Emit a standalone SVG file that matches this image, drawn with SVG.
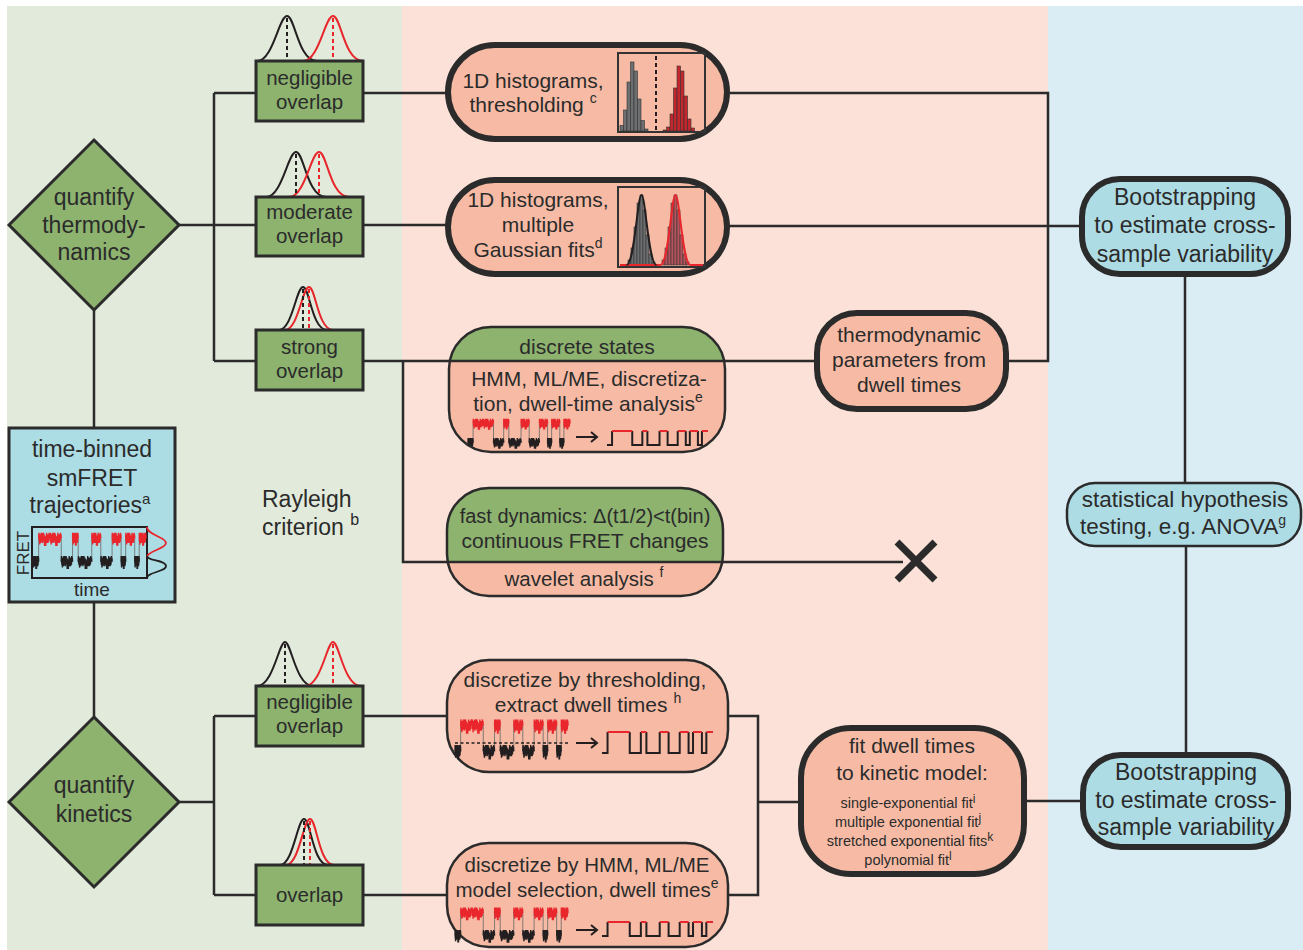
<svg xmlns="http://www.w3.org/2000/svg" xmlns:xlink="http://www.w3.org/1999/xlink" width="1303" height="950" viewBox="0 0 1303 950">
<style>
.t{font-family:"Liberation Sans",Arial,sans-serif;fill:#2b2b2b;text-anchor:middle}
.ln{stroke:#2b2b2b;stroke-width:2.5;fill:none}
.gbox{fill:#8db36f;stroke:#2b2b2b;stroke-width:3}
.thick{fill:#f7bba5;stroke:#2b2b2b;stroke-width:6}
.bthick{fill:#aedce4;stroke:#2b2b2b;stroke-width:6}
.thin{fill:none;stroke:#2b2b2b;stroke-width:2.5}
.k{stroke:#231f20}
.r{stroke:#e8262c}
.gs{fill:none;stroke-width:2}
.ds{fill:none;stroke-width:2;stroke-dasharray:4 3}
.hg{fill:#6d6e70;stroke:#333;stroke-width:.6}
.hr{fill:#c1272d;stroke:#333;stroke-width:.6}
.hr2{fill:#b5545c;stroke:#333;stroke-width:.6}
</style>
<defs>
<path id="nz" d="M0,0l.25,-4 .25,6 .25,-5 .25,7 .25,-6 .25,3 .25,-4 .25,6 .25,-7 .25,5 .25,-3 .25,4 .25,-6 .25,7 .25,-5 .25,2 .25,-4 .25,6 .25,-5 .25,3 .25,5 .25,-7 .25,4 .25,-3 .25,6 .25,-5 .25,2 .25,-6 .25,7 .25,-4 .25,3 .25,-5 .25,6 .25,-2 .25,-4 .25,5 .25,-6 .25,4 .25,-3 .25,3" fill="none" stroke-width="1.4" vector-effect="non-scaling-stroke"/>
<g id="tr">
<path d="M5,8V24M25,8V24M35,8V24M40,8V24M52,8V24M60,8V24M70,8V24M78,8V24M82,8V24M90,8V24M94,8V24" stroke="#666" stroke-width=".8" vector-effect="non-scaling-stroke"/>
<g class="k">
<use href="#nz" transform="translate(0,24) scale(.5,1)"/>
<use href="#nz" transform="translate(25,24)"/>
<use href="#nz" transform="translate(40,24) scale(1.2,1)"/>
<use href="#nz" transform="translate(60,24)"/>
<use href="#nz" transform="translate(78,24) scale(.4,1)"/>
<use href="#nz" transform="translate(90,24) scale(.4,1)"/>
</g>
<g class="r">
<use href="#nz" transform="translate(5,8)"/>
<use href="#nz" transform="translate(15,8)"/>
<use href="#nz" transform="translate(35,8) scale(.5,1)"/>
<use href="#nz" transform="translate(52,8) scale(.8,1)"/>
<use href="#nz" transform="translate(70,8) scale(.8,1)"/>
<use href="#nz" transform="translate(82,8) scale(.8,1)"/>
<use href="#nz" transform="translate(94,8) scale(.6,1)"/>
</g>
</g>
<g id="st" fill="none">
<path class="k" stroke-width="2" vector-effect="non-scaling-stroke" d="M0,24H5V8M25,8V24H35V8M40,8V24H52V8M60,8V24H70V8M78,8V24H82V8M90,8V24H94V8"/>
<path class="r" stroke-width="2" vector-effect="non-scaling-stroke" d="M5,8H25M35,8H40M52,8H60M70,8H78M82,8H90M94,8H100"/>
</g>
<g id="arr" fill="none" stroke="#231f20" stroke-width="2">
<path d="M0,0H21M15,-5L21,0L15,5"/>
</g>
<clipPath id="cDS"><rect x="449" y="327" width="276" height="125" rx="42"/></clipPath>
<clipPath id="cFD"><rect x="447" y="488" width="276" height="108" rx="42"/></clipPath>
</defs>

<!-- background panels -->
<rect x="7" y="6" width="395" height="944" fill="#e2ebdb"/>
<rect x="402" y="6" width="646" height="944" fill="#fbe1d7"/>
<rect x="1048" y="6" width="255" height="944" fill="#daedf4"/>

<g id="connectors" class="ln">
<path d="M94,310V428M94,602V717"/>
<path d="M179,225H214M214,93V361M214,93H256M214,225H256M214,361H256"/>
<path d="M179,802H214M214,716V895M214,716H256M214,895H256"/>
<path d="M363,93H448M363,225H448M363,361H449"/>
<path d="M403,361V562H447M723,562H903"/>
<path d="M727,93H1048V361H1006M727,226H1082M725,361H817"/>
<path d="M1185,277V483M1186,546V755"/>
<path d="M363,716H447M728,716H758V895H728M363,895H447M758,802H801M1024,801H1083"/>
</g>

<g id="thermo-diamond">
<polygon points="94,140 179,225 94,310 9,225" fill="#8db36f" stroke="#2b2b2b" stroke-width="3"/>
<text class="t" font-size="23"><tspan x="94" y="205">quantify</tspan><tspan x="94" y="233">thermody-</tspan><tspan x="94" y="260">namics</tspan></text>
</g>

<g id="kinetic-diamond">
<polygon points="94,717 179,802 94,887 9,802" fill="#8db36f" stroke="#2b2b2b" stroke-width="3"/>
<text class="t" font-size="23"><tspan x="94" y="793">quantify</tspan><tspan x="94" y="822">kinetics</tspan></text>
</g>

<g id="trajectories">
<rect x="9" y="428" width="166" height="174" fill="#acdce4" stroke="#2b2b2b" stroke-width="3"/>
<text class="t" font-size="23"><tspan x="92" y="457">time-binned</tspan><tspan x="92" y="486">smFRET</tspan><tspan x="90" y="513">trajectories<tspan dy="-9" font-size="15">a</tspan></tspan></text>
<rect x="32" y="527" width="115" height="51" fill="none" stroke="#231f20" stroke-width="2"/>
<use href="#tr" transform="translate(33,527) scale(1.13,1.45)"/>
<path d="M147,527C147,535 166,537 166,543S147,551 147,557" fill="none" stroke="#e8262c" stroke-width="1.8"/>
<path d="M147,556C147,561 166,560 166,566S147,572 147,578" fill="none" stroke="#231f20" stroke-width="1.8"/>
<text class="t" font-size="19" x="92" y="596">time</text>
<text class="t" font-size="17" transform="translate(29,553) rotate(-90)" x="0" y="0">FRET</text>
</g>

<g id="rayleigh">
<text class="t" font-size="23" style="text-anchor:start"><tspan x="262" y="507">Rayleigh</tspan><tspan x="262" y="535">criterion <tspan dy="-10" font-size="16">b</tspan></tspan></text>
</g>

<g id="thermo-negligible">
<path class="gs k" d="M256,61H257C273,61 279,16 287,16S298,61 317,61"/>
<path class="gs r" d="M303,61C319,61 325,16 333,16S344,61 363,61"/>
<path class="ds k" d="M287,18V61"/>
<path class="ds r" d="M333,18V61"/>
<rect class="gbox" x="256" y="61" width="107" height="60"/>
<text class="t" font-size="20.5"><tspan x="309.5" y="85">negligible</tspan><tspan x="309.5" y="109">overlap</tspan></text>
</g>

<g id="thermo-moderate">
<path class="gs k" d="M256,197H266C282,197 288,152 296,152S307,197 326,197"/>
<path class="gs r" d="M289,197C305,197 311,152 319,152S330,197 349,197H363"/>
<path class="ds k" d="M296,154V197"/>
<path class="ds r" d="M319,154V197"/>
<rect class="gbox" x="256" y="197" width="107" height="59"/>
<text class="t" font-size="20.5"><tspan x="309.5" y="219">moderate</tspan><tspan x="309.5" y="243">overlap</tspan></text>
</g>

<g id="thermo-strong">
<path class="gs k" d="M256,330H279C292,330 296.5,287 303,287S312,330 327,330"/>
<path class="gs r" d="M285,330C298,330 302.5,287 309,287S318,330 333,330H363"/>
<path class="ds k" d="M303,289V330"/>
<path class="ds r" d="M309,289V330"/>
<rect class="gbox" x="256" y="330" width="107" height="60"/>
<text class="t" font-size="20.5"><tspan x="309.5" y="354">strong</tspan><tspan x="309.5" y="378">overlap</tspan></text>
</g>

<g id="kinetic-negligible">
<path class="gs k" d="M256,686H257C273,686 279,642 285,642S296,686 313,686"/>
<path class="gs r" d="M305,686C321,686 327,642 333,642S344,686 361,686H363"/>
<path class="ds k" d="M285,644V686"/>
<path class="ds r" d="M333,644V686"/>
<rect class="gbox" x="256" y="686" width="107" height="60"/>
<text class="t" font-size="20.5"><tspan x="309.5" y="709">negligible</tspan><tspan x="309.5" y="733">overlap</tspan></text>
</g>

<g id="kinetic-overlap">
<path class="gs k" d="M256,865H280C293,865 297.5,819 304,819S313,865 328,865"/>
<path class="gs r" d="M286,865C299,865 303.5,819 310,819S319,865 334,865H363"/>
<path class="ds k" d="M304,821V865"/>
<path class="ds r" d="M310,821V865"/>
<rect class="gbox" x="256" y="865" width="107" height="60"/>
<text class="t" font-size="20.5" x="309.5" y="902">overlap</text>
</g>

<g id="hist-threshold">
<rect class="thick" x="448" y="45" width="279" height="94" rx="47"/>
<text class="t" font-size="21"><tspan x="533" y="88">1D histograms,</tspan><tspan x="533" y="112">thresholding <tspan dy="-9" font-size="14">c</tspan></tspan></text>
<g>
<rect class="hg" x="620" y="125.4" width="3.5" height="5.6"/><rect class="hg" x="623.5" y="110" width="3.5" height="21"/><rect class="hg" x="627" y="82" width="3.5" height="49"/><rect class="hg" x="630.5" y="62" width="3.5" height="69"/><rect class="hg" x="634" y="71" width="3.5" height="60"/><rect class="hg" x="637.5" y="99" width="3.5" height="32"/><rect class="hg" x="641" y="120.5" width="3.5" height="10.5"/><rect class="hg" x="644.5" y="129" width="3.5" height="2"/>
<rect class="hr" x="663" y="130" width="3.5" height="1"/><rect class="hr" x="666.5" y="127" width="3.5" height="4"/><rect class="hr" x="670" y="114" width="3.5" height="17"/><rect class="hr" x="673.5" y="88" width="3.5" height="43"/><rect class="hr" x="677" y="66" width="3.5" height="65"/><rect class="hr" x="680.5" y="71" width="3.5" height="60"/><rect class="hr" x="684" y="96" width="3.5" height="35"/><rect class="hr" x="687.5" y="119" width="3.5" height="12"/><rect class="hr" x="691" y="128" width="3.5" height="3"/>
<path class="ds k" stroke-width="1.5" d="M656,56V131"/>
<rect x="618" y="53" width="87" height="79" fill="none" stroke="#333" stroke-width="2"/>
</g>
</g>

<g id="hist-gaussian">
<rect class="thick" x="448" y="180" width="279" height="94" rx="47"/>
<text class="t" font-size="21"><tspan x="538" y="207">1D histograms,</tspan><tspan x="538" y="232">multiple</tspan><tspan x="538" y="257">Gaussian fits<tspan dy="-9" font-size="14">d</tspan></tspan></text>
<g>
<rect class="hg" x="628" y="260" width="3" height="5"/><rect class="hg" x="631" y="248" width="3" height="17"/><rect class="hg" x="634" y="227" width="3" height="38"/><rect class="hg" x="637" y="203" width="3" height="62"/><rect class="hg" x="640" y="195" width="3" height="70"/><rect class="hg" x="643" y="210" width="3" height="55"/><rect class="hg" x="646" y="235" width="3" height="30"/><rect class="hg" x="649" y="254" width="3" height="11"/><rect class="hg" x="652" y="262" width="3" height="3"/>
<rect class="hr2" x="662" y="260" width="3" height="5"/><rect class="hr2" x="665" y="248" width="3" height="17"/><rect class="hr2" x="668" y="227" width="3" height="38"/><rect class="hr2" x="671" y="203" width="3" height="62"/><rect class="hr2" x="674" y="195" width="3" height="70"/><rect class="hr2" x="677" y="210" width="3" height="55"/><rect class="hr2" x="680" y="235" width="3" height="30"/><rect class="hr2" x="683" y="254" width="3" height="11"/><rect class="hr2" x="686" y="262" width="3" height="3"/>
<path class="gs r" d="M620,265H660.5C668.5,265 671.5,195 675.5,195S682.5,265 690.5,265H703"/>
<path class="gs k" d="M626.5,265C634.5,265 637.5,195 641.5,195S648.5,265 656.5,265"/>
<rect x="618" y="187" width="87" height="80" fill="none" stroke="#333" stroke-width="2"/>
</g>
</g>

<g id="discrete-states">
<g clip-path="url(#cDS)">
<rect x="449" y="327" width="276" height="125" fill="#f7bba5"/>
<rect x="449" y="327" width="276" height="34" fill="#8db36f"/>
<use href="#tr" transform="translate(468,414) scale(1.02,1.2)"/>
<use href="#st" transform="translate(607,424) scale(1.01,.875)"/>
</g>
<path class="ln" d="M449,361H725"/>
<rect class="thin" x="449" y="327" width="276" height="125" rx="42"/>
<text class="t" font-size="21" x="587" y="354">discrete states</text>
<text class="t" font-size="21"><tspan x="589" y="386">HMM, ML/ME, discretiza-</tspan><tspan x="588" y="411">tion, dwell-time analysis<tspan dy="-9" font-size="14">e</tspan></tspan></text>
<use href="#arr" transform="translate(576,437)"/>
</g>

<g id="fast-dynamics">
<g clip-path="url(#cFD)">
<rect x="447" y="488" width="276" height="108" fill="#f7bba5"/>
<rect x="447" y="488" width="276" height="74" fill="#8db36f"/>
</g>
<path class="ln" d="M447,562H723"/>
<rect class="thin" x="447" y="488" width="276" height="108" rx="42"/>
<text class="t" font-size="20" x="585" y="523">fast dynamics: Δ(t1/2)&lt;t(bin)</text>
<text class="t" font-size="21" x="585" y="548">continuous FRET changes</text>
<text class="t" font-size="20.5" x="584" y="586">wavelet analysis <tspan dy="-9" font-size="14">f</tspan></text>
</g>

<g id="no-analysis">
<path d="M897,542L935,580M935,542L897,580" stroke="#2b2b2b" stroke-width="7" fill="none"/>
</g>

<g id="thermo-params">
<rect class="thick" x="817" y="313" width="189" height="96" rx="40"/>
<text class="t" font-size="21"><tspan x="909" y="342">thermodynamic</tspan><tspan x="909" y="367">parameters from</tspan><tspan x="909" y="392">dwell times</tspan></text>
</g>

<g id="bootstrap-1">
<rect class="bthick" x="1082" y="179" width="206" height="95" rx="38"/>
<text class="t" font-size="23"><tspan x="1185" y="205">Bootstrapping</tspan><tspan x="1185" y="233">to estimate cross-</tspan><tspan x="1185" y="262">sample variability</tspan></text>
</g>

<g id="hypothesis">
<rect x="1067" y="483" width="234" height="63" rx="28" fill="#aedce4" stroke="#2b2b2b" stroke-width="2.5"/>
<text class="t" font-size="22.5"><tspan x="1185" y="507">statistical hypothesis</tspan><tspan x="1183" y="534">testing, e.g. ANOVA<tspan dy="-9" font-size="14">g</tspan></tspan></text>
</g>

<g id="threshold-kinetics">
<rect x="447" y="660" width="281" height="112" rx="42" fill="#f7bba5" stroke="#2b2b2b" stroke-width="2.5"/>
<text class="t" font-size="21"><tspan x="585" y="687">discretize by thresholding,</tspan><tspan x="588" y="712">extract dwell times <tspan dy="-9" font-size="14">h</tspan></tspan></text>
<use href="#tr" transform="translate(455,713) scale(1.13,1.6)"/>
<path d="M455,743H568" stroke="#231f20" stroke-width="1.5" stroke-dasharray="3 2.5"/>
<use href="#arr" transform="translate(576,743)"/>
<use href="#st" transform="translate(602,721.5) scale(1.11,1.31)"/>
</g>

<g id="hmm-kinetics">
<rect x="447" y="843" width="281" height="104" rx="42" fill="#f7bba5" stroke="#2b2b2b" stroke-width="2.5"/>
<text class="t" font-size="20.5"><tspan x="587" y="872">discretize by HMM, ML/ME</tspan><tspan x="587" y="897">model selection, dwell times<tspan dy="-9" font-size="14">e</tspan></tspan></text>
<use href="#tr" transform="translate(455,902) scale(1.13,1.4)"/>
<use href="#arr" transform="translate(576,930)"/>
<use href="#st" transform="translate(602,915) scale(1.11,.875)"/>
</g>

<g id="fit-dwell">
<rect class="thick" x="801" y="728" width="223" height="146" rx="50"/>
<text class="t" font-size="21"><tspan x="912" y="753">fit dwell times</tspan><tspan x="912" y="780">to kinetic model:</tspan></text>
<text class="t" font-size="14.5" x="908" y="808">single-exponential fit<tspan dy="-5" font-size="12">i</tspan></text>
<text class="t" font-size="14.5" x="908" y="827">multiple exponential fit<tspan dy="-5" font-size="12">j</tspan></text>
<text class="t" font-size="14.5" x="910" y="846">stretched exponential fits<tspan dy="-5" font-size="12">k</tspan></text>
<text class="t" font-size="14.5" x="908" y="865">polynomial fit<tspan dy="-5" font-size="12">l</tspan></text>
</g>

<g id="bootstrap-2">
<rect class="bthick" x="1083" y="755" width="205" height="92" rx="38"/>
<text class="t" font-size="23"><tspan x="1186" y="780">Bootstrapping</tspan><tspan x="1186" y="808">to estimate cross-</tspan><tspan x="1186" y="835">sample variability</tspan></text>
</g>
</svg>
